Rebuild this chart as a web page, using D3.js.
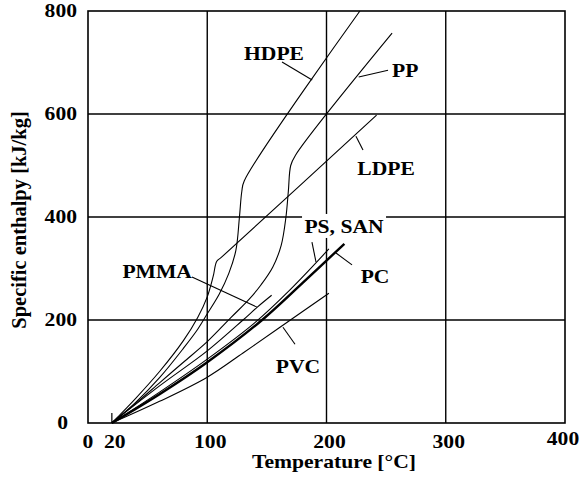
<!DOCTYPE html>
<html>
<head>
<meta charset="utf-8">
<script src="https://cdn.jsdelivr.net/npm/d3@7"></script>
<style>
    body { margin: 0; background: #fff; }
    text { font-family: "Liberation Serif", "Times New Roman", serif; font-weight: bold; fill: #000; }
</style>
</head>
<body>
<div id="chart"></div>
<script>
// tick values
var xTicks = [0, 20, 100, 200, 300, 400];
var yTicks = [0, 200, 400, 600, 800];
var xGrid = [100, 200, 300];
var yGrid = [200, 400, 600];

// curves: [temperature degC, specific enthalpy kJ/kg]
var hdpe = [[20, 0], [40, 40], [60, 88], [80, 145], [92, 182], [100, 212], [110, 250], [118, 290], [124, 335], [127, 400], [129, 450], [131, 470], [228, 800]];
var ldpe = [[20, 0], [40, 48], [60, 100], [80, 160], [92, 205], [100, 245], [105, 285], [108, 314], [112, 322], [242, 598]];
var pp = [[20, 0], [40, 38], [60, 78], [80, 118], [100, 158], [120, 205], [135, 240], [145, 268], [155, 303], [162, 345], [166, 400], [168, 450], [170, 500], [174, 520], [255, 757]];
var pmma = [[20, 0], [60, 72], [100, 140], [130, 200], [142, 225], [154, 248]];
var psSan = [[20, 0], [60, 60], [100, 124], [140, 195], [170, 260], [202, 338]];
var pc = [[20, 0], [60, 56], [100, 118], [146, 200], [180, 272], [215, 348]];
var pvc = [[20, 0], [60, 42], [100, 89], [130, 136], [161, 186], [202, 252]];

var series = [
    { name: 'HDPE', values: hdpe, width: 1.1 },
    { name: 'LDPE', values: ldpe, width: 1.1 },
    { name: 'PP', values: pp, width: 1.1 },
    { name: 'PMMA', values: pmma, width: 1.1 },
    { name: 'PS, SAN', values: psSan, width: 1.1 },
    { name: 'PC', values: pc, width: 2.4 },
    { name: 'PVC', values: pvc, width: 1.1 }
];

// curve labels: text position and leader line, in data units
var labelNames = ['HDPE', 'PP', 'LDPE', 'PS, SAN', 'PC', 'PMMA', 'PVC'];
var labelPos = [[156, 705], [266, 672], [250, 481], [214.7, 369], [240.7, 272], [58, 281.5], [176, 97]];
var leaders = [
    [[162.7, 701], [188, 666]],
    [[251.6, 685], [227, 672]],
    [[230.6, 530], [224.7, 557]],
    [[187.8, 351], [191.2, 312.6]],
    [[221.4, 307], [208, 330]],
    [[87.2, 283.5], [141.7, 225]],
    [[173.6, 153], [163.5, 186]]
];

var width = 582;
var height = 483;
var plot = { left: 88, right: 565, top: 11, bottom: 423 };
var stretch = 1.2; // glyphs in the original are wide

var svg = d3
    .select('#chart')
    .append('svg')
    .attr('width', width)
    .attr('height', height);

var x = d3.scaleLinear().domain([0, 400]).range([plot.left, plot.right]);
var y = d3.scaleLinear().domain([0, 800]).range([plot.bottom, plot.top]);

function addText(parent, px, py, str, anchor) {
    return parent
        .append('text')
        .attr('transform', 'translate(' + px + ',' + py + ') scale(' + stretch + ',1)')
        .attr('text-anchor', anchor)
        .style('font-size', '18px')
        .text(str);
}

// grid lines
var grid = svg.append('g').attr('class', 'grid');
grid.selectAll('.vgrid')
    .data(xGrid)
    .enter()
    .append('line')
    .attr('x1', function(d) { return x(d); })
    .attr('x2', function(d) { return x(d); })
    .attr('y1', plot.top)
    .attr('y2', plot.bottom)
    .style('stroke', '#000')
    .style('stroke-width', 1.4);
grid.selectAll('.hgrid')
    .data(yGrid)
    .enter()
    .append('line')
    .attr('x1', plot.left)
    .attr('x2', plot.right)
    .attr('y1', function(d) { return y(d); })
    .attr('y2', function(d) { return y(d); })
    .style('stroke', '#000')
    .style('stroke-width', 1.4);

// frame
svg.append('rect')
    .attr('x', plot.left)
    .attr('y', plot.top)
    .attr('width', plot.right - plot.left)
    .attr('height', plot.bottom - plot.top)
    .style('fill', 'none')
    .style('stroke', '#000')
    .style('stroke-width', 1.6);

// small tick at 20 degC
svg.append('line')
    .attr('x1', x(20))
    .attr('x2', x(20))
    .attr('y1', plot.bottom)
    .attr('y2', plot.bottom - 10)
    .style('stroke', '#000')
    .style('stroke-width', 1.2);

// curves
var line = d3.line()
    .x(function(d) { return x(d[0]); })
    .y(function(d) { return y(d[1]); })
    .curve(d3.curveCatmullRom.alpha(0.5));

svg.append('g')
    .attr('class', 'curves')
    .selectAll('path')
    .data(series)
    .enter()
    .append('path')
    .attr('d', function(d) { return line(d.values); })
    .style('fill', 'none')
    .style('stroke', '#000')
    .style('stroke-width', function(d) { return d.width; })
    .style('stroke-linejoin', 'round');

// leader lines
svg.append('g')
    .attr('class', 'leaders')
    .selectAll('line')
    .data(leaders)
    .enter()
    .append('line')
    .attr('x1', function(d) { return x(d[0][0]); })
    .attr('y1', function(d) { return y(d[0][1]); })
    .attr('x2', function(d) { return x(d[1][0]); })
    .attr('y2', function(d) { return y(d[1][1]); })
    .style('stroke', '#000')
    .style('stroke-width', 1.1);

// curve labels (PS, SAN sits on a white patch over the grid line)
var labels = svg.append('g').attr('class', 'labels');
labelNames.forEach(function(name, i) {
    var px = x(labelPos[i][0]);
    var py = y(labelPos[i][1]);
    if (name === 'PS, SAN') {
        labels.append('rect')
            .attr('x', px - 42)
            .attr('y', py - 19)
            .attr('width', 84)
            .attr('height', 24)
            .style('fill', '#fff');
    }
    addText(labels, px, py, name, 'middle');
});

// x tick labels
var xAxisG = svg.append('g').attr('class', 'x-ticks');
xTicks.forEach(function(d) {
    var shift = d === 0 ? 0 : (d === 400 ? -2 : 3);
    var lift = d === 400 ? -3 : 0;
    addText(xAxisG, x(d) + shift, 448 + lift, String(d), 'middle');
});

// y tick labels
var yAxisG = svg.append('g').attr('class', 'y-ticks');
yTicks.forEach(function(d) {
    var right = d === 0 ? 68 : 77;
    addText(yAxisG, right, y(d) + 6, String(d), 'end');
});

// axis titles
addText(svg, 334, 468, 'Temperature [°C]', 'middle');

svg.append('text')
    .attr('transform', 'translate(26,220) rotate(-90)')
    .attr('text-anchor', 'middle')
    .style('font-size', '20.5px')
    .text('Specific enthalpy [kJ/kg]');
</script>
</body>
</html>
